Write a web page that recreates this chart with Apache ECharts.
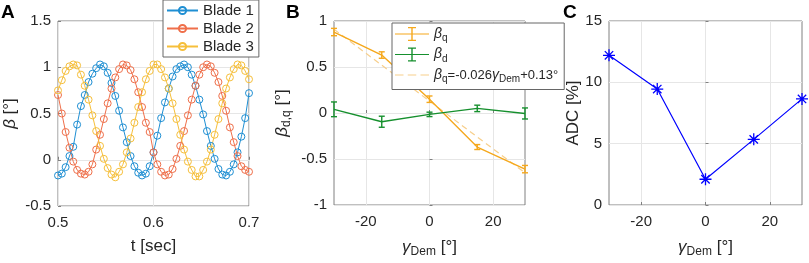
<!DOCTYPE html>
<html>
<head>
<meta charset="utf-8">
<script src="https://cdn.jsdelivr.net/npm/echarts@6/dist/echarts.min.js"></script>
<style>
  html, body { margin: 0; padding: 0; background: #fff; }
  #chart { width: 809px; height: 263px; }
</style>
</head>
<body>
<div id="chart"></div>
<script>
// panel A: blade pitch vs time
const time = [0.500,0.504,0.508,0.512,0.516,0.520,0.524,0.528,0.532,0.536,0.540,0.544,0.548,0.552,0.556,0.560,0.564,0.568,0.572,0.576,0.580,0.584,0.588,0.592,0.596,0.600,0.604,0.608,0.612,0.616,0.620,0.624,0.628,0.632,0.636,0.640,0.644,0.648,0.652,0.656,0.660,0.664,0.668,0.672,0.676,0.680,0.684,0.688,0.692,0.696,0.700];
const blade1 = [-0.17,-0.15,-0.08,0.04,0.14,0.38,0.58,0.70,0.84,0.93,0.99,1.03,1.01,0.94,0.83,0.69,0.53,0.35,0.19,0.04,-0.07,-0.14,-0.17,-0.15,-0.07,0.08,0.26,0.45,0.62,0.77,0.90,0.98,1.01,1.03,1.00,0.92,0.80,0.65,0.49,0.31,0.15,0.01,-0.10,-0.16,-0.17,-0.13,-0.05,0.08,0.25,0.45,0.72];
const blade2 = [0.70,0.50,0.30,0.13,-0.02,-0.11,-0.15,-0.16,-0.13,-0.05,0.11,0.27,0.44,0.61,0.77,0.89,0.98,1.03,1.02,0.97,0.87,0.73,0.57,0.40,0.30,0.08,-0.05,-0.13,-0.17,-0.16,-0.10,0.01,0.15,0.31,0.48,0.65,0.80,0.92,1.00,1.03,1.01,0.94,0.84,0.69,0.53,0.35,0.19,0.04,-0.07,-0.11,-0.13];
const blade3 = [0.75,0.86,0.96,1.01,1.03,1.02,0.92,0.80,0.65,0.48,0.31,0.15,0.01,-0.09,-0.16,-0.19,-0.13,-0.05,0.08,0.23,0.40,0.57,0.73,0.87,0.96,1.03,1.03,0.98,0.89,0.77,0.61,0.44,0.27,0.11,-0.02,-0.11,-0.18,-0.18,-0.11,-0.02,0.11,0.27,0.44,0.61,0.77,0.89,0.98,1.03,1.02,0.96,0.87];

// panel B: pitch components vs demodulation angle
const gammaDem = [-30, -15, 0, 15, 30];
const betaQ = [0.88, 0.63, 0.15, -0.37, -0.61];
const betaQErr = [0.04, 0.035, 0.035, 0.027, 0.04];
const betaD = [0.04, -0.095, -0.015, 0.05, -0.005];
const betaDErr = [0.08, 0.06, 0.024, 0.035, 0.06];
const fitX = [-30, 30];
const fitY = [0.91, -0.65];

// panel C: ADC
const adc = [12.2, 9.45, 2.1, 5.35, 8.65];

const gammaTicks = [-20, 0, 20];

const font = 'Liberation Sans, Arial, Helvetica, sans-serif';
const txt = '#262626';
const frame = '#808080';
const gridColor = '#e6e6e6';

const errIcon = 'path://M0,6.4H34V7.6H0Z M16.3,0H17.7V14H16.3Z M13,0H21V1.3H13Z M13,12.7H21V14H13Z';
const dashIcon = 'path://M0,0H0.05V0.05H0Z M0,13.95H0.05V14H0Z M0,6.4H8V7.6H0Z M12,6.4H20V7.6H12Z M24,6.4H32V7.6H24Z';
const star = 'path://M5,0V10M0,5H10M1.5,1.5L8.5,8.5M1.5,8.5L8.5,1.5';

const rich = {
  g: { fontSize: 17, fontStyle: 'italic', fontFamily: font, color: txt, lineHeight: 22 },
  s: { fontSize: 12, fontFamily: font, color: txt, verticalAlign: 'bottom', lineHeight: 10 },
  n: { fontSize: 17, fontFamily: font, color: txt, lineHeight: 22 }
};
const legRich = {
  g: { fontSize: 14, fontStyle: 'italic', fontFamily: font, color: txt, lineHeight: 19 },
  s: { fontSize: 10, fontFamily: font, color: txt, verticalAlign: 'bottom', lineHeight: 8 },
  n: { fontSize: 13, fontFamily: font, color: txt, lineHeight: 19 }
};

function xAx(idx, opts) {
  return Object.assign({
    gridIndex: idx,
    type: 'value',
    nameLocation: 'middle',
    nameTextStyle: { fontSize: 17, color: txt, fontFamily: font, rich: rich },
    axisLine: { show: false },
    axisTick: { inside: true, length: 3, lineStyle: { color: frame } },
    axisLabel: { fontSize: 15, color: txt, fontFamily: font, margin: 9 },
    splitLine: { show: true, lineStyle: { color: gridColor } }
  }, opts);
}
function yAx(idx, opts) {
  return Object.assign({
    gridIndex: idx,
    type: 'value',
    nameLocation: 'middle',
    nameRotate: 90,
    nameTextStyle: { fontSize: 17, color: txt, fontFamily: font, rich: rich },
    axisLine: { show: false },
    axisTick: { inside: true, length: 3, lineStyle: { color: frame } },
    axisLabel: { fontSize: 15, color: txt, fontFamily: font, margin: 7 },
    splitLine: { show: true, lineStyle: { color: gridColor } }
  }, opts);
}
function gammaAxis(idx) {
  return xAx(idx, {
    min: -30, max: 30, name: '{g|γ}{s|Dem}{n| [°]}', nameGap: 31,
    axisLabel: { fontSize: 15, color: txt, fontFamily: font, margin: 9, customValues: gammaTicks },
    axisTick: { inside: true, length: 3, lineStyle: { color: frame }, customValues: gammaTicks },
    splitLine: { show: true, lineStyle: { color: gridColor }, customValues: gammaTicks }
  });
}

function errorBar(params, api) {
  const x = api.value(0);
  const lo = api.coord([x, api.value(1)]);
  const hi = api.coord([x, api.value(2)]);
  const w = 3;
  const style = { stroke: api.visual('color'), lineWidth: 1.4 };
  return {
    type: 'group',
    children: [
      { type: 'line', shape: { x1: lo[0], y1: lo[1], x2: hi[0], y2: hi[1] }, style: style },
      { type: 'line', shape: { x1: lo[0] - w, y1: lo[1], x2: lo[0] + w, y2: lo[1] }, style: style },
      { type: 'line', shape: { x1: hi[0] - w, y1: hi[1], x2: hi[0] + w, y2: hi[1] }, style: style }
    ]
  };
}

function bladeSeries(name, values, color) {
  return {
    name: name, type: 'line', xAxisIndex: 0, yAxisIndex: 0,
    data: time.map((t, i) => [t, values[i]]),
    symbol: 'circle', symbolSize: 7, color: color,
    lineStyle: { width: 1, color: color },
    itemStyle: { color: 'rgba(255,255,255,0)', borderColor: color, borderWidth: 1 }
  };
}

const letterStyle = { fontSize: 19, fontWeight: 'bold', color: '#000', fontFamily: font };

const chart = echarts.init(document.getElementById('chart'), null, { renderer: 'canvas' });
chart.setOption({
  animation: false,
  backgroundColor: '#fff',
  textStyle: { fontFamily: font },
  title: [
    { text: 'A', left: 1, top: 3, padding: 0, textStyle: letterStyle },
    { text: 'B', left: 286, top: 3, padding: 0, textStyle: letterStyle },
    { text: 'C', left: 563, top: 3, padding: 0, textStyle: letterStyle }
  ],
  grid: [
    { left: 58, top: 21, width: 191, height: 185, show: true, borderColor: frame, borderWidth: 1, backgroundColor: 'transparent' },
    { left: 334, top: 21, width: 191, height: 185, show: true, borderColor: frame, borderWidth: 1, backgroundColor: 'transparent' },
    { left: 609, top: 21, width: 193, height: 185, show: true, borderColor: frame, borderWidth: 1, backgroundColor: 'transparent' }
  ],
  xAxis: [
    xAx(0, { min: 0.5, max: 0.7, interval: 0.1, name: 't [sec]', nameGap: 32,
      axisLabel: { fontSize: 15, color: txt, fontFamily: font, margin: 9, formatter: v => v.toFixed(1) } }),
    gammaAxis(1),
    gammaAxis(2)
  ],
  yAxis: [
    yAx(0, { min: -0.5, max: 1.5, interval: 0.5, name: '{g|β}{n| [°]}', nameGap: 37 }),
    yAx(1, { min: -1, max: 1, interval: 0.5, name: '{g|β}{s|d,q}{n| [°]}', nameGap: 41 }),
    yAx(2, { min: 0, max: 15, interval: 5, name: 'ADC [%]', nameGap: 27 })
  ],
  legend: [
    {
      left: 163, top: 0, orient: 'vertical', selectedMode: false,
      backgroundColor: '#fff', borderColor: '#666', borderWidth: 1,
      padding: [3, 5, 3, 3], itemWidth: 31, itemHeight: 9, itemGap: 3,
      textStyle: { fontSize: 15, color: txt, fontFamily: font },
      data: ['Blade 1', 'Blade 2', 'Blade 3']
    },
    {
      left: 392, top: 23, orient: 'vertical', selectedMode: false,
      backgroundColor: '#fff', borderColor: '#666', borderWidth: 1,
      padding: [4, 6, 5, 3], itemWidth: 34, itemHeight: 14, itemGap: 4,
      symbolKeepAspect: false,
      textStyle: { fontSize: 14, color: txt, fontFamily: font, rich: legRich },
      formatter: function (n) {
        if (n === 'bq') return '{g|β}{s|q}';
        if (n === 'bd') return '{g|β}{s|d}';
        return '{g|β}{s|q}{n|=-0.026}{g|γ}{s|Dem}{n|+0.13°}';
      },
      data: [{ name: 'bq', icon: errIcon }, { name: 'bd', icon: errIcon }, { name: 'fit', icon: dashIcon }]
    }
  ],
  series: [
    bladeSeries('Blade 1', blade1, '#1f8fd3'),
    bladeSeries('Blade 2', blade2, '#ef6f4a'),
    bladeSeries('Blade 3', blade3, '#f6bf3a'),

    { name: 'fit', type: 'line', xAxisIndex: 1, yAxisIndex: 1, data: fitX.map((x, i) => [x, fitY[i]]),
      symbol: 'none', color: '#f7cf8c', lineStyle: { width: 1.2, type: [6, 4] }, z: 1 },
    { name: 'bq', type: 'line', xAxisIndex: 1, yAxisIndex: 1, data: gammaDem.map((g, i) => [g, betaQ[i]]),
      symbol: 'none', color: '#f5a81c', lineStyle: { width: 1.4 } },
    { name: 'bd', type: 'line', xAxisIndex: 1, yAxisIndex: 1, data: gammaDem.map((g, i) => [g, betaD[i]]),
      symbol: 'none', color: '#16902e', lineStyle: { width: 1.4 } },
    { name: 'bq', type: 'custom', xAxisIndex: 1, yAxisIndex: 1, renderItem: errorBar, color: '#f5a81c',
      encode: { x: 0, y: [1, 2] },
      data: gammaDem.map((g, i) => [g, betaQ[i] - betaQErr[i], betaQ[i] + betaQErr[i]]) },
    { name: 'bd', type: 'custom', xAxisIndex: 1, yAxisIndex: 1, renderItem: errorBar, color: '#16902e',
      encode: { x: 0, y: [1, 2] },
      data: gammaDem.map((g, i) => [g, betaD[i] - betaDErr[i], betaD[i] + betaDErr[i]]) },

    { name: 'ADC', type: 'line', xAxisIndex: 2, yAxisIndex: 2, data: gammaDem.map((g, i) => [g, adc[i]]),
      symbol: star, symbolSize: 12, color: '#0000ff', lineStyle: { width: 1.2 },
      itemStyle: { color: '#0000ff', borderColor: '#0000ff', borderWidth: 1.3 } }
  ]
});
window.addEventListener('resize', () => chart.resize());
</script>
</body>
</html>
